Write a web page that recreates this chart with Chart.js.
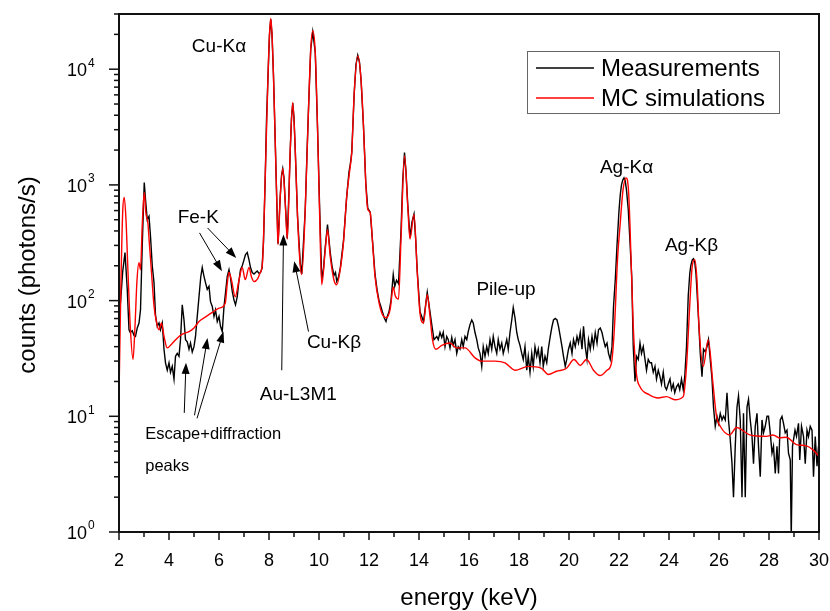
<!DOCTYPE html>
<html>
<head>
<meta charset="utf-8">
<script src="https://cdn.jsdelivr.net/npm/chart.js@4"></script>
<style>
  html, body { margin: 0; padding: 0; background: #fff; }
  #wrap { width: 830px; height: 611px; }
</style>
</head>
<body>
<div id="wrap"><canvas id="spec" width="830" height="611"></canvas></div>
<script>
// measured spectrum (keV, photons/s)
const measEnergy = [
  2.00, 2.06, 2.15, 2.24, 2.33, 2.40, 2.45, 2.53, 2.60, 2.66, 2.73, 2.80, 2.86, 2.93, 3.01, 3.06, 3.13, 3.20, 3.26, 3.33,
  3.40, 3.46, 3.53, 3.60, 3.66, 3.73, 3.80, 3.86, 3.93, 4.00, 4.06, 4.13, 4.20, 4.26, 4.33, 4.40, 4.46, 4.53, 4.60, 4.66,
  4.73, 4.80, 4.86, 4.93, 5.00, 5.06, 5.13, 5.20, 5.27, 5.33, 5.40, 5.46, 5.53, 5.60, 5.66, 5.73, 5.80, 5.86, 5.93, 6.00,
  6.06, 6.13, 6.20, 6.26, 6.33, 6.40, 6.46, 6.53, 6.60, 6.66, 6.73, 6.80, 6.86, 6.93, 7.00, 7.06, 7.13, 7.20, 7.26, 7.33,
  7.40, 7.47, 7.53, 7.60, 7.66, 7.72, 7.78, 7.85, 7.90, 7.96, 8.02, 8.07, 8.12, 8.18, 8.25, 8.32, 8.36, 8.45, 8.50, 8.55, 8.60, 8.65, 8.73,
  8.80, 8.85, 8.90, 8.95, 9.00, 9.05, 9.14, 9.25, 9.31, 9.45, 9.52, 9.58, 9.67, 9.75, 9.85, 9.94, 10.02, 10.11, 10.18, 10.25, 10.34, 10.45, 10.52, 10.60,
  10.66, 10.71, 10.78, 10.85, 10.98, 11.11, 11.20, 11.25, 11.31, 11.41, 11.48, 11.55, 11.62, 11.68, 11.78, 11.87, 11.95, 12.05, 12.14, 12.24, 12.32, 12.40,
  12.48, 12.55, 12.62, 12.68, 12.72, 12.80, 12.88, 12.97, 13.03, 13.10, 13.18, 13.28, 13.35, 13.42, 13.48, 13.55, 13.64, 13.72, 13.80, 13.87, 13.93, 14.04, 14.18, 14.26, 14.33,
  14.44, 14.52, 14.60, 14.71, 14.77, 14.84, 14.91, 14.97, 15.04, 15.11, 15.17, 15.24, 15.31, 15.37, 15.44, 15.51, 15.57, 15.64, 15.71, 15.77,
  15.84, 15.91, 15.97, 16.04, 16.11, 16.17, 16.24, 16.31, 16.37, 16.44, 16.51, 16.57, 16.64, 16.71, 16.77, 16.84, 16.91, 16.97, 17.04, 17.11,
  17.17, 17.24, 17.31, 17.37, 17.44, 17.51, 17.57, 17.64, 17.71, 17.77, 17.84, 17.91, 17.97, 18.04, 18.11, 18.17, 18.24, 18.31, 18.37, 18.44,
  18.51, 18.57, 18.64, 18.71, 18.77, 18.84, 18.91, 18.97, 19.04, 19.11, 19.17, 19.25, 19.32, 19.38, 19.45, 19.52, 19.58, 19.65, 19.72, 19.78,
  19.85, 19.91, 19.98, 20.05, 20.12, 20.18, 20.25, 20.32, 20.38, 20.45, 20.52, 20.58, 20.65, 20.72, 20.78, 20.85, 20.92, 20.98, 21.05, 21.12,
  21.18, 21.25, 21.32, 21.38, 21.45, 21.52, 21.58, 21.65, 21.72, 21.78, 21.85, 21.92, 22.00, 22.05, 22.10, 22.15, 22.20, 22.25, 22.30, 22.37, 22.44, 22.51, 22.57,
  22.64, 22.70, 22.77, 22.84, 22.90, 22.97, 23.04, 23.10, 23.17, 23.24, 23.30, 23.37, 23.44, 23.50, 23.57, 23.64, 23.70, 23.77, 23.84, 23.90,
  23.97, 24.04, 24.10, 24.17, 24.23, 24.30, 24.37, 24.43, 24.50, 24.57, 24.63, 24.70, 24.77, 24.83, 24.87, 24.93, 24.98, 25.03, 25.08, 25.18, 25.25, 25.32, 25.38,
  25.45, 25.52, 25.58, 25.65, 25.72, 25.78, 25.85, 25.92, 25.98, 26.05, 26.12, 26.18, 26.25, 26.32, 26.38, 26.45, 26.52, 26.58, 26.65, 26.72,
  26.78, 26.85, 26.92, 26.98, 27.05, 27.12, 27.18, 27.25, 27.32, 27.38, 27.45, 27.52, 27.58, 27.65, 27.72, 27.78, 27.85, 27.92, 27.98, 28.05,
  28.12, 28.18, 28.25, 28.32, 28.38, 28.45, 28.52, 28.58, 28.65, 28.72, 28.78, 28.85, 28.89, 28.94, 29.04, 29.10, 29.18, 29.23, 29.30, 29.38,
  29.45, 29.52, 29.58, 29.65, 29.72, 29.78, 29.85, 29.92, 29.98
];
const measCounts = [
  80, 96, 180, 260, 125, 56, 53, 55, 50, 49, 58, 64, 83, 300, 1050, 750, 500, 535, 360, 200,
  143, 75, 60, 64, 56, 64, 38, 29, 25, 29, 24, 27, 21, 33, 35, 33, 46, 92, 68, 46,
  44, 38, 43, 36, 40, 49, 73, 108, 160, 193, 162, 143, 125, 133, 98, 89, 73, 83, 66, 73,
  60, 54, 89, 117, 162, 185, 158, 120, 101, 92, 108, 150, 185, 200, 225, 250, 260, 225, 193, 175,
  170, 176, 180, 172, 175, 190, 320, 1180, 3600, 8700, 20000, 27000, 20000, 8700, 2340, 615, 310, 800, 1200, 1380, 1150, 700, 345,
  900, 2000, 3800, 5100, 3800, 2000, 540, 210, 170, 615, 1900, 4500, 15000, 21000, 14000, 3200, 700, 150, 190, 290, 455, 260, 200, 165,
  175, 147, 160, 190, 330, 800, 1300, 1500, 1900, 6300, 11000, 13200, 11500, 8200, 3200, 1050, 630, 580, 330, 170, 125, 100,
  88, 78, 70, 66, 72, 80, 100, 168, 133, 150, 140, 400, 1100, 1900, 1300, 680, 350, 480, 560, 330, 180, 80, 66, 90, 118,
  80, 60, 46, 49, 46, 53, 48, 53, 40, 49, 46, 39, 48, 41, 46, 35, 40, 38, 46, 40,
  49, 46, 54, 62, 68, 64, 53, 46, 39, 35, 27, 40, 33, 40, 35, 46, 38, 49, 40, 35,
  46, 38, 43, 35, 40, 46, 38, 53, 68, 87, 71, 53, 46, 41, 35, 31, 40, 25, 33, 24,
  35, 27, 40, 33, 38, 29, 40, 27, 33, 29, 38, 49, 60, 68, 70, 68, 60, 49, 40, 33,
  27, 31, 38, 43, 35, 46, 40, 49, 43, 53, 38, 60, 40, 31, 46, 38, 49, 40, 53, 43,
  56, 58, 53, 46, 40, 43, 35, 31, 40, 89, 150, 300, 600, 820, 1000, 1100, 1150, 1080, 900, 615, 320, 160, 40,
  20, 33, 31, 43, 35, 40, 31, 25, 31, 29, 29, 24, 27, 21, 25, 22, 19, 24, 18, 17,
  19, 21, 17, 19, 16, 18, 19, 17, 21, 17, 22, 40, 110, 170, 200, 225, 230, 215, 170, 70, 35, 22, 38,
  36, 40, 46, 31, 21, 12, 8.2, 10, 8.7, 10.6, 9.3, 10, 9.3, 16, 9.3, 6.3, 3.9, 2.0, 5.5, 12,
  15, 9.3, 2.0, 10.6, 2.0, 12, 14, 9.3, 6.7, 3.9, 8.2, 10.6, 5.5, 3.0, 9.3, 7.2, 8.2, 10, 10, 7.2,
  4.8, 5.5, 3.2, 5.5, 3.2, 9.3, 10, 8.7, 7.2, 7.6, 4.8, 4.2, 0.9, 5.5, 7.6, 6.7, 8.7, 4.2, 8.2, 6.7,
  3.9, 7.6, 6.7, 8.2, 7.6, 3.0, 6.7, 3.7, 5.5
];

// Monte Carlo simulation
const simEnergy = [
  2.00, 2.08, 2.15, 2.21, 2.28, 2.35, 2.45, 2.56, 2.64, 2.72, 2.80, 2.86, 2.93, 3.01, 3.08, 3.15, 3.22, 3.30, 3.40, 3.50,
  3.60, 3.70, 3.80, 3.93, 4.10, 4.40, 4.60, 4.80, 5.00, 5.20, 5.45, 5.73, 6.00, 6.25, 6.33, 6.40, 6.50, 6.65, 6.80, 6.93,
  7.05, 7.20, 7.30, 7.40, 7.55, 7.65, 7.74, 7.85, 7.96, 8.02, 8.07, 8.12, 8.18, 8.25, 8.32, 8.36, 8.45, 8.55, 8.65, 8.73,
  8.85, 8.95, 9.05, 9.14, 9.25, 9.31, 9.45, 9.58, 9.67, 9.75, 9.85, 9.94, 10.02, 10.11, 10.25, 10.34, 10.45, 10.60, 10.71, 10.85,
  10.98, 11.11, 11.25, 11.31, 11.41, 11.55, 11.68, 11.78, 11.87, 11.95, 12.05, 12.14, 12.24, 12.40, 12.58, 12.70, 12.85, 12.97, 13.05, 13.18,
  13.28, 13.42, 13.55, 13.64, 13.80, 13.93, 14.04, 14.18, 14.33, 14.44, 14.54, 14.67, 14.91, 15.24, 15.50, 15.84, 16.24, 16.50, 17.04, 17.44,
  17.84, 18.37, 18.90, 19.17, 19.50, 19.90, 20.20, 20.45, 20.70, 20.98, 21.24, 21.52, 21.70, 21.82, 21.94, 22.04, 22.16, 22.28, 22.38, 22.44,
  22.57, 22.70, 22.84, 23.20, 23.57, 23.90, 24.23, 24.57, 24.70, 24.84, 24.92, 25.03, 25.12, 25.20, 25.37, 25.57, 25.75, 25.90, 26.05, 26.43,
  26.70, 27.23, 27.90, 28.16, 28.42, 28.69, 29.10, 29.50, 29.77, 30.00
];
const simCounts = [
  15, 150, 600, 780, 500, 200, 60, 31, 60, 150, 213, 185, 450, 860, 560, 480, 300, 175, 90, 65,
  56, 64, 49, 39, 42, 49, 52, 54, 58, 66, 72, 79, 86, 95, 140, 175, 150, 108, 150, 193,
  152, 193, 160, 146, 155, 175, 213, 1180, 8700, 20000, 27500, 20000, 8700, 2340, 615, 305, 800, 1390, 700, 340,
  2000, 5160, 2000, 540, 200, 168, 615, 4500, 15000, 21500, 14000, 3200, 615, 137, 275, 410, 240, 150, 137, 185,
  320, 800, 1450, 1900, 6300, 13000, 8200, 3200, 1050, 615, 575, 320, 162, 96, 73, 71, 85, 131, 110, 103,
  340, 1790, 650, 340, 555, 175, 78, 64, 113, 73, 46, 38, 41, 43, 39, 39, 32, 30, 30, 29,
  25, 27, 26, 23, 24.5, 26, 31, 27.5, 31, 25, 22.5, 25, 29, 60, 226, 440, 900, 1150, 900, 440,
  60, 23, 18, 15.4, 14.4, 14.8, 13.9, 14.8, 27, 100, 190, 226, 150, 60, 27, 46, 20, 10, 8.2, 6.9,
  8.0, 6.9, 6.7, 6.9, 6.5, 6.6, 5.7, 5.55, 5.1, 4.5
];

const xTicks = [2, 4, 6, 8, 10, 12, 14, 16, 18, 20, 22, 24, 26, 28, 30];
const yPowers = [0, 1, 2, 3, 4];

// peak labels: [text, keV, counts]
const peakLabels = [
  ['Cu-K\u03b1', 6.0, 15500],
  ['Fe-K', 5.17, 523],
  ['Au-L3M1', 9.17, 15.4],
  ['Cu-K\u03b2', 10.6, 43],
  ['Pile-up', 17.48, 125],
  ['Ag-K\u03b1', 22.3, 1410],
  ['Ag-K\u03b2', 24.9, 295]
];
// arrows: [fromKeV, fromCounts, toKeV, toCounts]
const arrows = [
  [5.22, 385, 6.12, 179],
  [5.54, 425, 6.69, 234],
  [4.61, 10.7, 4.68, 29],
  [5.02, 10.2, 5.54, 47.5],
  [5.12, 9.6, 6.18, 54],
  [8.51, 25, 8.58, 373],
  [9.58, 54, 9.01, 219]
];

const FONT = "'Liberation Sans', Arial, sans-serif";

function toPoints(xs, ys) {
  return xs.map((x, i) => ({ x: x, y: ys[i] }));
}

function arrow(ctx, x0, y0, x1, y1) {
  const ang = Math.atan2(y1 - y0, x1 - x0);
  const len = 11, half = 4;
  ctx.beginPath();
  ctx.moveTo(x0, y0);
  ctx.lineTo(x1 - Math.cos(ang) * len * 0.8, y1 - Math.sin(ang) * len * 0.8);
  ctx.stroke();
  ctx.beginPath();
  ctx.moveTo(x1, y1);
  ctx.lineTo(x1 - Math.cos(ang) * len - Math.sin(ang) * half, y1 - Math.sin(ang) * len + Math.cos(ang) * half);
  ctx.lineTo(x1 - Math.cos(ang) * len + Math.sin(ang) * half, y1 - Math.sin(ang) * len - Math.cos(ang) * half);
  ctx.closePath();
  ctx.fill();
}

const decor = {
  id: 'decor',
  afterDraw(chart) {
    const { ctx, chartArea: a, scales } = chart;
    const sx = scales.x, sy = scales.y;
    ctx.save();

    // frame
    ctx.strokeStyle = '#111';
    ctx.lineWidth = 2;
    ctx.strokeRect(a.left, a.top, a.right - a.left, a.bottom - a.top);

    // x ticks
    ctx.lineWidth = 1.5;
    ctx.fillStyle = '#000';
    ctx.font = '18px ' + FONT;
    ctx.textAlign = 'center';
    ctx.textBaseline = 'middle';
    for (let v = 2; v <= 30; v++) {
      const px = sx.getPixelForValue(v);
      const major = v % 2 === 0;
      ctx.beginPath();
      ctx.moveTo(px, a.bottom);
      ctx.lineTo(px, a.bottom + (major ? 8 : 5));
      ctx.stroke();
    }
    xTicks.forEach(v => ctx.fillText(String(v), sx.getPixelForValue(v), a.bottom + 29));

    // y ticks
    for (let p = 0; p <= 4; p++) {
      for (let m = 1; m <= 9; m++) {
        const val = m * Math.pow(10, p);
        if (val > sy.max) break;
        const py = sy.getPixelForValue(val);
        ctx.beginPath();
        ctx.moveTo(a.left, py);
        ctx.lineTo(a.left - (m === 1 ? 10 : 5), py);
        ctx.stroke();
      }
    }
    yPowers.forEach(p => {
      const py = sy.getPixelForValue(Math.pow(10, p));
      ctx.font = '18px ' + FONT;
      ctx.textAlign = 'right';
      ctx.fillText('10', a.left - 32, py + 2);
      ctx.font = '12px ' + FONT;
      ctx.textAlign = 'left';
      ctx.fillText(String(p), a.left - 31, py - 6);
    });

    // axis titles
    ctx.font = '24px ' + FONT;
    ctx.textAlign = 'center';
    ctx.fillText('energy (keV)', (a.left + a.right) / 2, 598);
    ctx.save();
    ctx.translate(28, (a.top + a.bottom) / 2 + 2);
    ctx.rotate(-Math.PI / 2);
    ctx.fillText('counts (photons/s)', 0, 0);
    ctx.restore();

    // peak labels
    ctx.font = '19px ' + FONT;
    ctx.textAlign = 'center';
    peakLabels.forEach(([t, e, c]) => ctx.fillText(t, sx.getPixelForValue(e), sy.getPixelForValue(c)));
    ctx.font = '16.5px ' + FONT;
    ctx.textAlign = 'left';
    ctx.fillText('Escape+diffraction', sx.getPixelForValue(3.05), sy.getPixelForValue(6.9));
    ctx.fillText('peaks', sx.getPixelForValue(3.05), sy.getPixelForValue(3.7));

    // arrows
    ctx.strokeStyle = '#000';
    ctx.lineWidth = 1;
    arrows.forEach(([e0, c0, e1, c1]) => arrow(ctx,
      sx.getPixelForValue(e0), sy.getPixelForValue(c0),
      sx.getPixelForValue(e1), sy.getPixelForValue(c1)));

    // legend
    const lx = 527, ly = 51, lw = 252, lh = 62;
    ctx.fillStyle = '#fff';
    ctx.fillRect(lx, ly, lw, lh);
    ctx.strokeStyle = '#666';
    ctx.lineWidth = 1;
    ctx.strokeRect(lx + 0.5, ly + 0.5, lw, lh);
    const items = [chart.data.datasets[0], chart.data.datasets[1]];
    ctx.font = '24px ' + FONT;
    ctx.textAlign = 'left';
    items.forEach((ds, i) => {
      const yy = ly + 17 + i * 30;
      ctx.strokeStyle = ds.borderColor;
      ctx.lineWidth = 1.5;
      ctx.beginPath();
      ctx.moveTo(536, yy);
      ctx.lineTo(594, yy);
      ctx.stroke();
      ctx.fillStyle = '#000';
      ctx.fillText(ds.label, 601, yy + 1);
    });

    ctx.restore();
  }
};

new Chart(document.getElementById('spec'), {
  type: 'line',
  data: {
    datasets: [
      {
        label: 'Measurements',
        data: toPoints(measEnergy, measCounts),
        borderColor: '#000000',
        borderWidth: 1.4,
        pointRadius: 0,
        tension: 0,
        order: 2
      },
      {
        label: 'MC simulations',
        data: toPoints(simEnergy, simCounts),
        borderColor: '#ff0000',
        borderWidth: 1.4,
        pointRadius: 0,
        cubicInterpolationMode: 'monotone',
        order: 1
      }
    ]
  },
  options: {
    responsive: false,
    animation: false,
    devicePixelRatio: 1,
    layout: { padding: { left: 119, top: 14, right: 11, bottom: 79 } },
    scales: {
      x: { type: 'linear', min: 2, max: 30, display: false },
      y: { type: 'logarithmic', min: 1, max: 30000, display: false }
    },
    plugins: {
      legend: { display: false },
      tooltip: { enabled: false }
    }
  },
  plugins: [decor]
});
</script>
</body>
</html>
